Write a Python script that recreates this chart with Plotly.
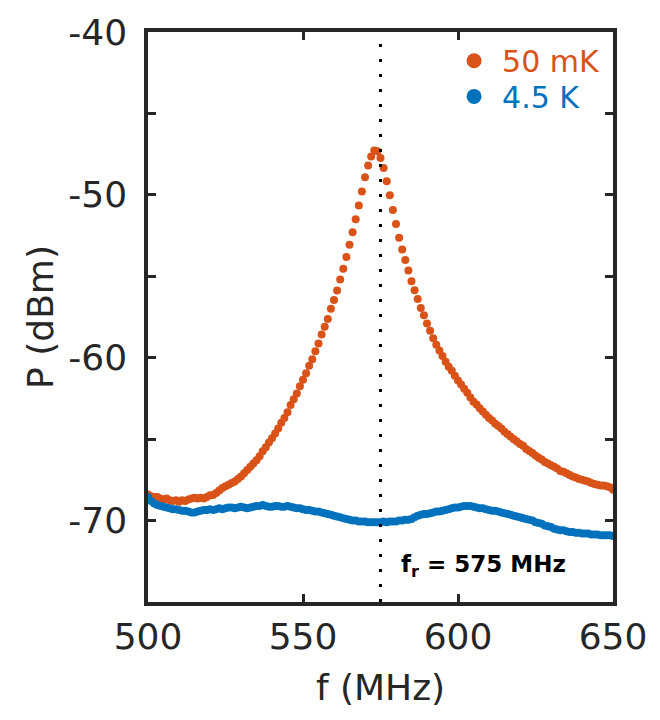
import plotly.graph_objects as go

# ---------------- data ----------------
freq_mhz = list(range(500, 651))  # 1 MHz steps

p_50mk = [
    -68.40, -68.50, -68.55, -68.55, -68.65, -68.70, -68.65, -68.75, -68.80, -68.75,  # 500-509
    -68.85, -68.75, -68.80, -68.70, -68.65, -68.60, -68.65, -68.60, -68.65, -68.55,  # 510-519
    -68.45, -68.43, -68.30, -68.15, -68.00, -67.90, -67.80, -67.70, -67.60, -67.45,  # 520-529
    -67.30, -67.10, -66.90, -66.70, -66.50, -66.30, -66.05, -65.75, -65.50, -65.20,  # 530-539
    -64.95, -64.65, -64.35, -64.00, -63.70, -63.35, -62.90, -62.55, -62.20, -61.75,  # 540-549
    -61.35, -60.95, -60.50, -60.10, -59.60, -59.12, -58.58, -58.10, -57.63, -57.00,  # 550-559
    -56.45, -55.87, -55.20, -54.53, -53.82, -53.07, -52.30, -51.50, -50.65, -49.80,  # 560-569
    -48.92, -48.19, -47.64, -47.27, -47.33, -47.73, -48.35, -49.16, -50.02, -50.93,  # 570-579
    -51.79, -52.64, -53.35, -54.00, -54.65, -55.30, -55.85, -56.40, -56.95, -57.40,  # 580-589
    -57.90, -58.35, -58.80, -59.20, -59.55, -59.90, -60.25, -60.55, -60.80, -61.10,  # 590-599
    -61.40, -61.65, -61.90, -62.15, -62.45, -62.70, -62.88, -63.10, -63.30, -63.50,  # 600-609
    -63.70, -63.85, -64.05, -64.20, -64.35, -64.55, -64.70, -64.85, -65.00, -65.15,  # 610-619
    -65.30, -65.40, -65.60, -65.73, -65.85, -66.00, -66.15, -66.25, -66.40, -66.50,  # 620-629
    -66.60, -66.70, -66.80, -66.95, -67.00, -67.10, -67.20, -67.30, -67.35, -67.45,  # 630-639
    -67.50, -67.55, -67.60, -67.70, -67.75, -67.80, -67.85, -67.85, -67.90, -67.95,  # 640-649
    -68.10,                                                                          # 650
]

p_4k5 = [
    -68.55, -68.80, -68.95, -69.05, -69.10, -69.15, -69.20, -69.25, -69.30, -69.30,  # 500-509
    -69.35, -69.40, -69.40, -69.45, -69.50, -69.50, -69.45, -69.40, -69.35, -69.35,  # 510-519
    -69.30, -69.35, -69.30, -69.25, -69.30, -69.25, -69.20, -69.20, -69.25, -69.20,  # 520-529
    -69.15, -69.20, -69.25, -69.20, -69.15, -69.10, -69.10, -69.05, -69.10, -69.15,  # 530-539
    -69.15, -69.10, -69.10, -69.15, -69.15, -69.10, -69.15, -69.20, -69.25, -69.25,  # 540-549
    -69.30, -69.35, -69.35, -69.40, -69.45, -69.45, -69.50, -69.55, -69.60, -69.65,  # 550-559
    -69.70, -69.75, -69.80, -69.85, -69.90, -69.95, -70.00, -70.00, -70.05, -70.05,  # 560-569
    -70.05, -70.10, -70.10, -70.10, -70.10, -70.10, -70.05, -70.10, -70.05, -70.05,  # 570-579
    -70.05, -70.00, -70.00, -69.95, -69.95, -69.90, -69.80, -69.70, -69.65, -69.60,  # 580-589
    -69.60, -69.55, -69.50, -69.45, -69.45, -69.40, -69.35, -69.30, -69.25, -69.20,  # 590-599
    -69.20, -69.15, -69.10, -69.10, -69.10, -69.15, -69.20, -69.25, -69.25, -69.30,  # 600-609
    -69.35, -69.40, -69.40, -69.45, -69.50, -69.55, -69.60, -69.65, -69.70, -69.75,  # 610-619
    -69.80, -69.85, -69.90, -69.95, -70.00, -70.10, -70.15, -70.20, -70.30, -70.35,  # 620-629
    -70.40, -70.50, -70.55, -70.60, -70.60, -70.65, -70.70, -70.70, -70.75, -70.75,  # 630-639
    -70.80, -70.80, -70.80, -70.85, -70.85, -70.85, -70.90, -70.90, -70.90, -70.90,  # 640-649
    -70.95,                                                                          # 650
]

series_names = ["50 mK", "4.5 K"]
series_colors = ["#D95319", "#0072BD"]

fr_mhz = 575
fr_label = "<b>f<sub>r</sub> = 575 MHz</b>"
fr_label_pos = (581, -72.8)

x_range = [500, 650]
y_range = [-75, -40]
x_tickvals = [500, 550, 600, 650]
x_ticktext = ["500", "550", "600", "650"]
y_tickvals = [-70, -60, -50, -40]
y_ticktext = ["-70", "-60", "-50", "-40"]
y_minor_tickvals = [-75, -65, -55, -45]

# ---------------- figure ----------------
AX = "#262626"
FONT = "DejaVu Sans"
TICK_SIZE = 36

fig = go.Figure()

for name, vals, col in zip(series_names, [p_50mk, p_4k5], series_colors):
    fig.add_trace(go.Scatter(
        x=freq_mhz, y=vals, mode="markers", name=name,
        marker=dict(color=col, size=8, line=dict(width=0)),
        showlegend=False, cliponaxis=False,
    ))

# legend-only entries (larger markers, coloured text)
for i, (name, col) in enumerate(zip(series_names, series_colors)):
    fig.add_trace(go.Scatter(
        x=[None], y=[None], mode="markers", name=name,
        marker=dict(color=col, size=15),
        legend="legend" if i == 0 else "legend2",
    ))

fig.add_shape(type="line", x0=fr_mhz, x1=fr_mhz, y0=y_range[0], y1=y_range[1],
              xref="x", yref="y", line=dict(color="black", width=3, dash="3px,12px"),
              layer="above")

fig.add_annotation(x=fr_label_pos[0], y=fr_label_pos[1], text=fr_label,
                   showarrow=False, xanchor="left", yanchor="middle",
                   font=dict(family=FONT, size=23, color="black"))

axis_common = dict(
    showline=True, linewidth=3.5, linecolor=AX, mirror="allticks",
    ticks="inside", ticklen=8, tickwidth=3, tickcolor=AX,
    showgrid=False, zeroline=False, ticklabeloverflow="allow",
    tickfont=dict(family=FONT, size=TICK_SIZE, color=AX),
)

fig.update_xaxes(range=x_range, tickvals=x_tickvals, ticktext=x_ticktext,
                 ticklabelstandoff=0,
                 title=dict(text="f (MHz)", font=dict(family=FONT, size=TICK_SIZE, color=AX), standoff=20),
                 **axis_common)
fig.update_yaxes(range=y_range, tickvals=y_tickvals, ticktext=y_ticktext,
                 ticklabelstandoff=10,
                 minor=dict(tickvals=y_minor_tickvals, ticks="inside", ticklen=8,
                            tickwidth=3, tickcolor=AX, showgrid=False),
                 title=dict(text="P (dBm)", font=dict(family=FONT, size=TICK_SIZE, color=AX), standoff=5),
                 **axis_common)

legend_common = dict(xanchor="left", yanchor="middle", bgcolor="rgba(0,0,0,0)",
                     borderwidth=0, itemwidth=46)
fig.update_layout(
    width=660, height=720,
    margin=dict(l=148, r=47, t=28, b=118),
    paper_bgcolor="white", plot_bgcolor="white",
    font=dict(family=FONT),
    legend=dict(x=0.641, y=0.9495, font=dict(family=FONT, size=30, color=series_colors[0]),
                **legend_common),
    legend2=dict(x=0.641, y=0.887, font=dict(family=FONT, size=30, color=series_colors[1]),
                 **legend_common),
)

fig.write_html("out.html", config={"displayModeBar": False},
               post_script="document.body.style.margin='0';document.body.style.overflow='hidden';")
